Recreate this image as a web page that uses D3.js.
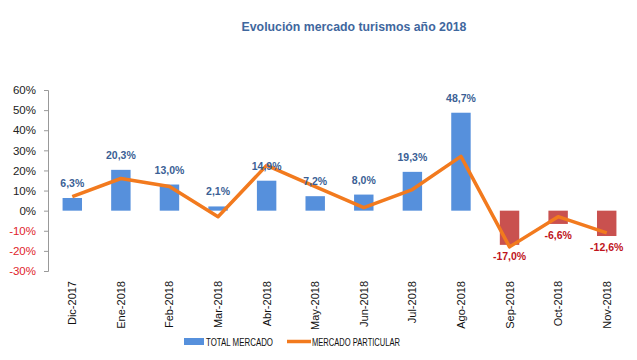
<!DOCTYPE html>
<html><head><meta charset="utf-8">
<script src="https://cdn.jsdelivr.net/npm/d3@7"></script>
<style>body{margin:0;background:#fff;}svg{display:block;}</style>
</head><body>
<svg id="c" width="637" height="360"></svg>
<script>
const categories = ["Dic-2017","Ene-2018","Feb-2018","Mar-2018","Abr-2018","May-2018","Jun-2018","Jul-2018","Ago-2018","Sep-2018","Oct-2018","Nov-2018"];
const totalMercado = [6.3,20.3,13.0,2.1,14.9,7.2,8.0,19.3,48.7,-17.0,-6.6,-12.6];
const mercadoParticular = [7,16,12,-3,22.5,12,1.5,10.5,27,-18,-3,-11];
const yTicks = [60,50,40,30,20,10,0,-10,-20,-30];
const title = "Evolución mercado turismos año 2018";
const seriesNames = ["TOTAL MERCADO","MERCADO PARTICULAR"];

const svg = d3.select("#c");
const font = "'Liberation Sans', Arial, sans-serif";
const x = d3.scaleBand().domain(categories).range([48,631]).paddingInner(0.6).paddingOuter(0.3);
const y = d3.scaleLinear().domain([-30,60]).range([271,90]);
const fmt = v => (v.toFixed(1)).replace(".",",") + "%";

svg.append("text").attr("x",354).attr("y",31).attr("text-anchor","middle")
  .attr("font-family",font).attr("font-weight","bold").attr("font-size",12.3)
  .attr("fill","#3F679E").text(title);

// y axis
const yAxis = svg.append("g").attr("transform","translate(48,0)")
  .call(d3.axisLeft(y).tickValues(yTicks).tickSize(4).tickFormat(d=>d+"%"));
yAxis.select(".domain").attr("stroke","#999");
yAxis.selectAll(".tick line").attr("stroke","#999");
yAxis.selectAll("text").attr("font-family",font).attr("font-size",11.5)
  .attr("x",-12).attr("fill",d=>d<0?"#E0242C":"#222");

// bars
svg.append("g").selectAll("rect").data(totalMercado).join("rect")
  .attr("x",(d,i)=>x(categories[i]))
  .attr("width",x.bandwidth())
  .attr("y",d=>y(Math.max(0,d)))
  .attr("height",d=>Math.abs(y(d)-y(0)))
  .attr("fill",d=>d<0?"#C9514F":"#5690DC");

// line
const line = d3.line().x((d,i)=>x(categories[i])+x.bandwidth()/2).y(d=>y(d));
svg.append("path").datum(mercadoParticular).attr("d",line)
  .attr("fill","none").attr("stroke","#F27A1E").attr("stroke-width",3.5).attr("stroke-linejoin","round");

// value labels
svg.append("g").selectAll("text").data(totalMercado).join("text")
  .attr("x",(d,i)=>x(categories[i])+x.bandwidth()/2)
  .attr("y",d=>d<0?y(d)+15:y(d)-11)
  .attr("text-anchor","middle").attr("font-family",font).attr("font-weight","bold")
  .attr("font-size",10.5).attr("fill",d=>d<0?"#C0141C":"#3B5F95").text(fmt);

// x labels
svg.append("g").selectAll("text").data(categories).join("text")
  .attr("transform",(d)=>`translate(${x(d)+x.bandwidth()/2+4},281) rotate(-90)`)
  .attr("text-anchor","end").attr("font-family",font).attr("font-size",11).attr("fill","#111").text(d=>d);

// legend
const lg = svg.append("g").attr("font-family",font).attr("font-size",10.5).attr("fill","#111");
lg.append("rect").attr("x",184).attr("y",338).attr("width",20).attr("height",7).attr("fill","#5690DC");
lg.append("text").attr("x",206).attr("y",345.5).attr("textLength",67).attr("lengthAdjust","spacingAndGlyphs").text(seriesNames[0]);
lg.append("line").attr("x1",287).attr("x2",311).attr("y1",341.5).attr("y2",341.5).attr("stroke","#F27A1E").attr("stroke-width",3.5);
lg.append("text").attr("x",312).attr("y",345.5).attr("textLength",88).attr("lengthAdjust","spacingAndGlyphs").text(seriesNames[1]);
</script>
</body></html>
